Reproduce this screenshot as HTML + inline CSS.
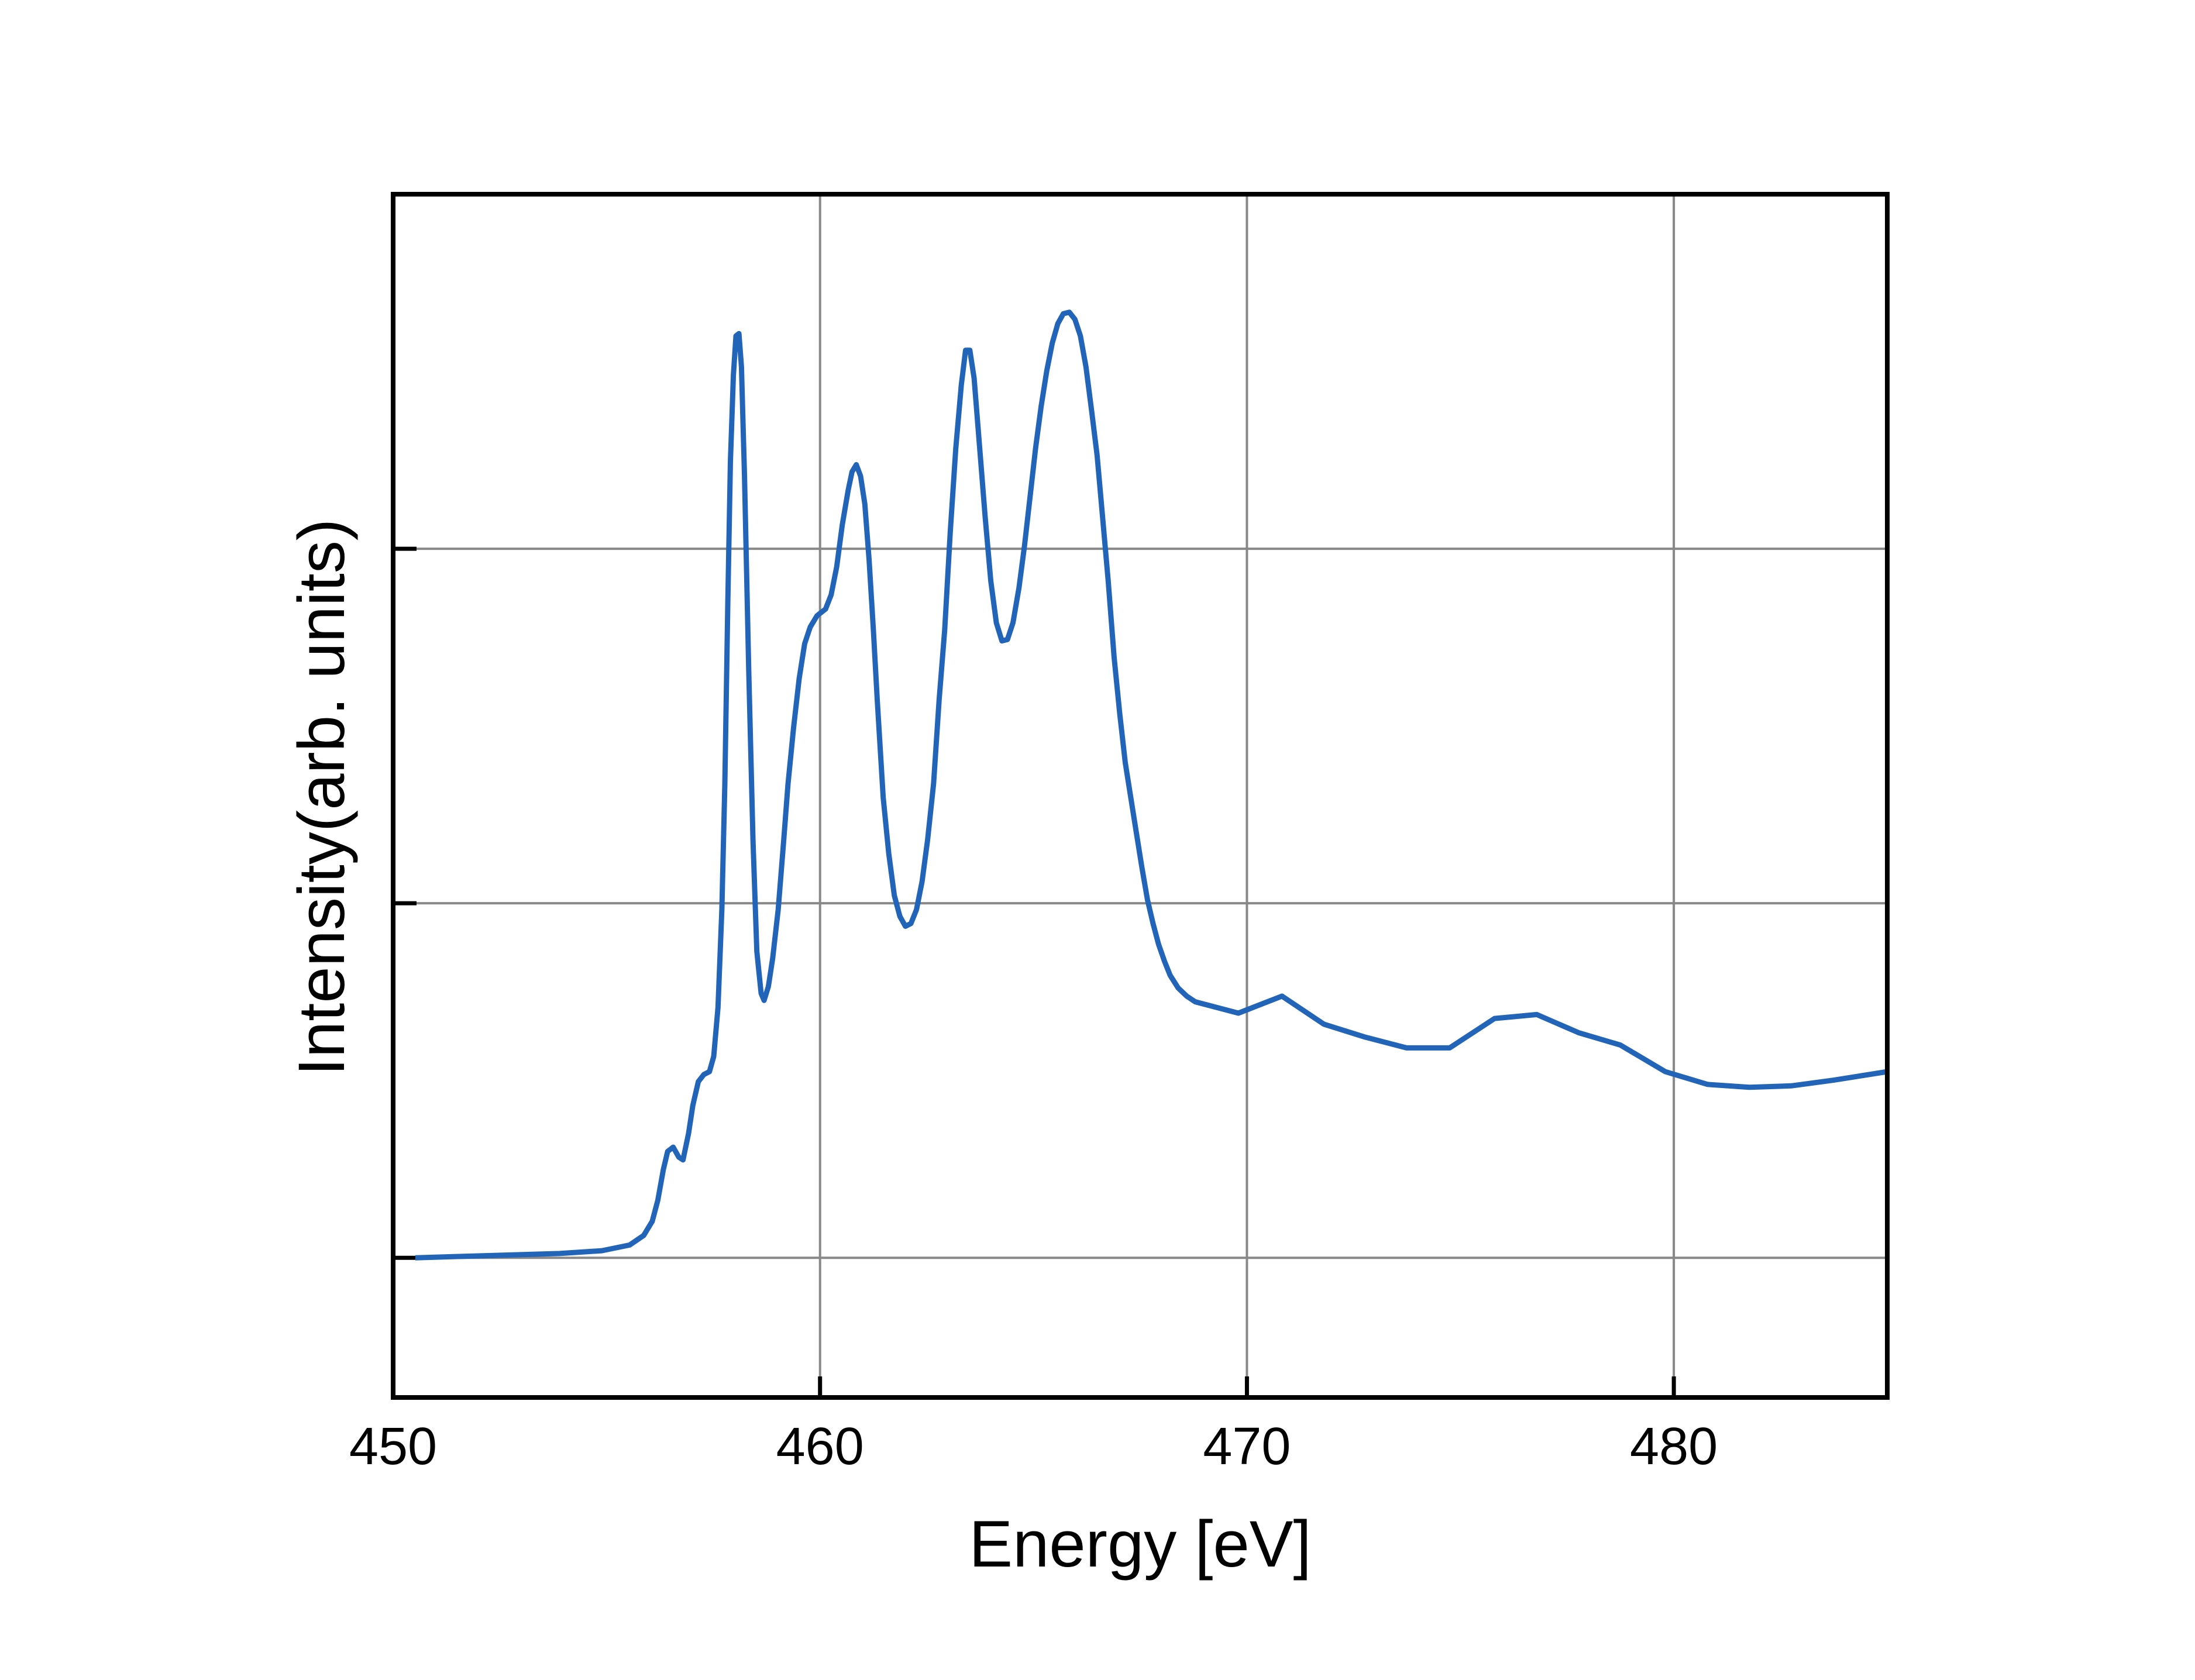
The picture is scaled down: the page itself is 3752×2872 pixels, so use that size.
<!DOCTYPE html>
<html><head><meta charset="utf-8"><style>
html,body{margin:0;padding:0;background:#fff;}
svg{display:block;}
text{font-family:"Liberation Sans",Arial,sans-serif;fill:#000;}
</style></head>
<body>
<svg id="chart" width="3752" height="2872" viewBox="0 0 3752 2872" xmlns="http://www.w3.org/2000/svg">
<rect width="3752" height="2872" fill="#fff"/>
<g id="grid"></g>
<g id="ticks"></g>
<path id="series" fill="none" stroke="#2264b8" stroke-width="9" stroke-linejoin="round"/>
<rect x="672" y="332" width="2554" height="2057" fill="none" stroke="#000" stroke-width="8"/>
<g id="xlabels"></g>
<text x="1949" y="2678" font-size="112" text-anchor="middle">Energy [eV]</text>
<text transform="translate(588,1363) rotate(-90)" font-size="112" text-anchor="middle">Intensity(arb. units)</text>
</svg>
<script>
const energy = [450.52,453.90,454.89,455.54,455.87,456.07,456.20,456.33,456.43,456.56,456.69,456.79,456.92,457.02,457.15,457.28,457.41,457.51,457.61,457.70,457.77,457.84,457.90,457.97,458.03,458.10,458.16,458.23,458.33,458.43,458.52,458.62,458.69,458.79,458.89,459.02,459.15,459.25,459.38,459.51,459.64,459.77,459.93,460.13,460.26,460.39,460.52,460.66,460.75,460.85,460.95,461.05,461.15,461.25,461.34,461.48,461.61,461.74,461.87,462.00,462.13,462.26,462.39,462.52,462.66,462.79,462.92,463.05,463.18,463.31,463.41,463.51,463.61,463.74,463.87,464.00,464.13,464.26,464.39,464.52,464.66,464.79,464.92,465.05,465.18,465.31,465.44,465.57,465.70,465.84,465.97,466.10,466.23,466.36,466.49,466.62,466.75,466.89,467.02,467.15,467.28,467.41,467.54,467.67,467.80,467.93,468.07,468.20,468.39,468.59,468.79,469.80,470.82,471.80,472.75,473.74,474.75,475.80,476.79,477.77,478.75,479.80,480.79,481.77,482.75,483.74,485.00];
const intensity = [0,0.012,0.020,0.036,0.063,0.103,0.162,0.249,0.300,0.312,0.284,0.276,0.351,0.430,0.497,0.517,0.525,0.568,0.706,0.982,1.337,1.850,2.245,2.489,2.600,2.607,2.513,2.205,1.653,1.179,0.864,0.746,0.726,0.765,0.844,0.982,1.179,1.337,1.495,1.633,1.732,1.779,1.811,1.830,1.870,1.949,2.067,2.166,2.217,2.237,2.205,2.126,1.968,1.771,1.574,1.298,1.140,1.022,0.963,0.935,0.943,0.982,1.061,1.179,1.337,1.574,1.771,2.047,2.284,2.462,2.560,2.560,2.481,2.284,2.087,1.909,1.791,1.740,1.744,1.791,1.890,2.008,2.146,2.284,2.402,2.501,2.580,2.635,2.663,2.667,2.647,2.600,2.513,2.391,2.264,2.087,1.909,1.692,1.535,1.396,1.298,1.199,1.101,1.010,0.943,0.884,0.836,0.797,0.761,0.738,0.722,0.690,0.738,0.659,0.623,0.592,0.592,0.675,0.686,0.635,0.600,0.525,0.489,0.481,0.485,0.501,0.525];
const xTicks = [450,460,470,480];
const xTickLabels = ["450","460","470","480"];
const yTicks = [0,1,2];

const X0=672,X1=3226,Y0=2389,Y1=332;
const xMin=450,xMax=485,yMin=-0.394,yMax=3.0;
function sx(v){return X0+(v-xMin)/(xMax-xMin)*(X1-X0);}
function sy(v){return Y0-(v-yMin)/(yMax-yMin)*(Y0-Y1);}
const NS="http://www.w3.org/2000/svg";
const grid=document.getElementById('grid'),ticks=document.getElementById('ticks'),xl=document.getElementById('xlabels');
function line(g,x1,y1,x2,y2,c,w){const l=document.createElementNS(NS,'line');l.setAttribute('x1',x1);l.setAttribute('y1',y1);l.setAttribute('x2',x2);l.setAttribute('y2',y2);l.setAttribute('stroke',c);l.setAttribute('stroke-width',w);g.appendChild(l);return l;}
xTicks.forEach((t,i)=>{
  const x=sx(t);
  if(t>xMin){const g=line(grid,x,Y1,x,Y0,'#888',4);
    
    
    const k=line(ticks,x,Y0-36,x,Y0,'#000',7);
    
    }
  const tx=document.createElementNS(NS,'text');
  tx.setAttribute('x',x);tx.setAttribute('y',2503);tx.setAttribute('font-size','90');tx.setAttribute('text-anchor','middle');
  tx.textContent=xTickLabels[i];
  
  
  xl.appendChild(tx);
});
yTicks.forEach(t=>{
  const y=sy(t);
  const g=line(grid,X0,y,X1,y,'#888',4);
  
  
  const k=line(ticks,X0,y,X0+40,y,'#000',7);
  
  
});
let d='';
energy.forEach((e,i)=>{d+=(i?'L':'M')+sx(e).toFixed(1)+','+sy(intensity[i]).toFixed(1);});
document.getElementById('series').setAttribute('d',d);
</script>
</body></html>
